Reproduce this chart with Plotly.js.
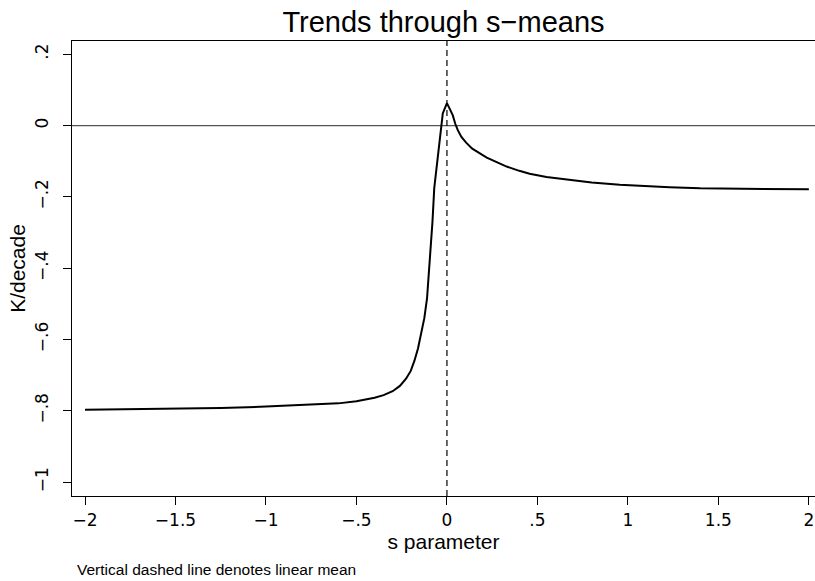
<!DOCTYPE html>
<html>
<head>
<meta charset="utf-8">
<script src="https://cdn.plot.ly/plotly-3.0.1.min.js"></script>
<style>html,body{margin:0;padding:0;background:#fff;}#chart{width:815px;height:581px;}</style>
</head>
<body>
<div id="chart"></div>
<script>
// s parameter values and trend (K/decade)
var sParam = [-2, -1.75, -1.5, -1.25, -1, -0.85, -0.7, -0.6, -0.5, -0.45, -0.4, -0.35, -0.3, -0.26, -0.226, -0.2, -0.18, -0.16, -0.14, -0.125, -0.11, -0.1, -0.09, -0.08, -0.07, -0.06, -0.047, -0.036, -0.023, 0, 0.016, 0.032, 0.046, 0.06, 0.08, 0.106, 0.14, 0.18, 0.22, 0.272, 0.33, 0.4, 0.457, 0.55, 0.678, 0.8, 0.955, 1.1, 1.23, 1.4, 1.6, 1.8, 2];
var trend = [-0.797, -0.796, -0.795, -0.792, -0.788, -0.785, -0.782, -0.779, -0.773, -0.769, -0.763, -0.756, -0.745, -0.730, -0.710, -0.688, -0.660, -0.625, -0.580, -0.540, -0.485, -0.420, -0.360, -0.270, -0.175, -0.130, -0.069, -0.030, 0.034, 0.063, 0.048, 0.029, 0.005, -0.013, -0.032, -0.048, -0.065, -0.0785, -0.090, -0.102, -0.115, -0.127, -0.135, -0.144, -0.153, -0.160, -0.166, -0.170, -0.173, -0.176, -0.177, -0.178, -0.179];

var xTickVals = [-2, -1.5, -1, -0.5, 0, 0.5, 1, 1.5, 2];
var xTickText = ["\u22122", "\u22121.5", "\u22121", "\u2212.5", "0", ".5", "1", "1.5", "2"];
var yTickVals = [-1, -0.8, -0.6, -0.4, -0.2, 0, 0.2];
var yTickText = ["\u22121", "\u2212.8", "\u2212.6", "\u2212.4", "\u2212.2", "0", ".2"];

var linearMean = 0;
var refLevel = 0;

var tickFont = "DejaVu Sans, Liberation Sans, Arial, sans-serif";
var textFont = "Liberation Sans, Arial, Helvetica, sans-serif";

var data = [{
  x: sParam,
  y: trend,
  type: "scatter",
  mode: "lines",
  line: {color: "#000000", width: 2},
  hoverinfo: "x+y",
  showlegend: false
}];

var layout = {
  width: 815,
  height: 581,
  margin: {l: 72, r: 0, t: 41, b: 85, pad: 0},
  paper_bgcolor: "#ffffff",
  plot_bgcolor: "#ffffff",
  font: {family: textFont, color: "#000000", size: 17},
  title: {
    text: "Trends through s\u2212means",
    font: {family: textFont, size: 29, color: "#000000"},
    x: 0.5, xref: "paper", xanchor: "center",
    y: 0.963, yref: "container", yanchor: "middle"
  },
  showlegend: false,
  xaxis: {
    range: [-2.072, 2.034],
    tickmode: "array",
    tickvals: xTickVals,
    ticktext: xTickText,
    ticks: "outside",
    ticklen: 8,
    tickwidth: 1,
    tickcolor: "#000000",
    showline: true,
    linecolor: "#000000",
    linewidth: 1.3,
    mirror: true,
    showgrid: false,
    zeroline: false,
    tickfont: {family: tickFont, size: 17},
    title: {text: "s parameter", font: {family: textFont, size: 21}, standoff: 0}
  },
  yaxis: {
    range: [-1.0387, 0.237],
    tickmode: "array",
    tickvals: yTickVals,
    ticktext: yTickText,
    tickangle: -90,
    ticks: "outside",
    ticklen: 8,
    tickwidth: 1,
    tickcolor: "#000000",
    ticklabelstandoff: 8,
    showline: true,
    linecolor: "#000000",
    linewidth: 1.3,
    showgrid: false,
    zeroline: false,
    tickfont: {family: tickFont, size: 17},
    title: {text: "K/decade", font: {family: textFont, size: 21}, standoff: 0}
  },
  shapes: [
    {type: "line", xref: "paper", x0: 0, x1: 1, yref: "y", y0: refLevel, y1: refLevel,
     line: {color: "#555555", width: 1.2}, layer: "below"},
    {type: "line", xref: "x", x0: linearMean, x1: linearMean, yref: "paper", y0: 0, y1: 1,
     line: {color: "#000000", width: 1.2, dash: "6px,4px"}, layer: "below"}
  ],
  annotations: [{
    text: "Vertical dashed line denotes linear mean",
    xref: "paper", yref: "paper",
    x: 0, y: -0.161,
    xshift: 3,
    xanchor: "left", yanchor: "middle",
    showarrow: false,
    font: {family: textFont, size: 15.5, color: "#000000"}
  }]
};

Plotly.newPlot("chart", data, layout, {displayModeBar: false, staticPlot: true});
</script>
</body>
</html>
